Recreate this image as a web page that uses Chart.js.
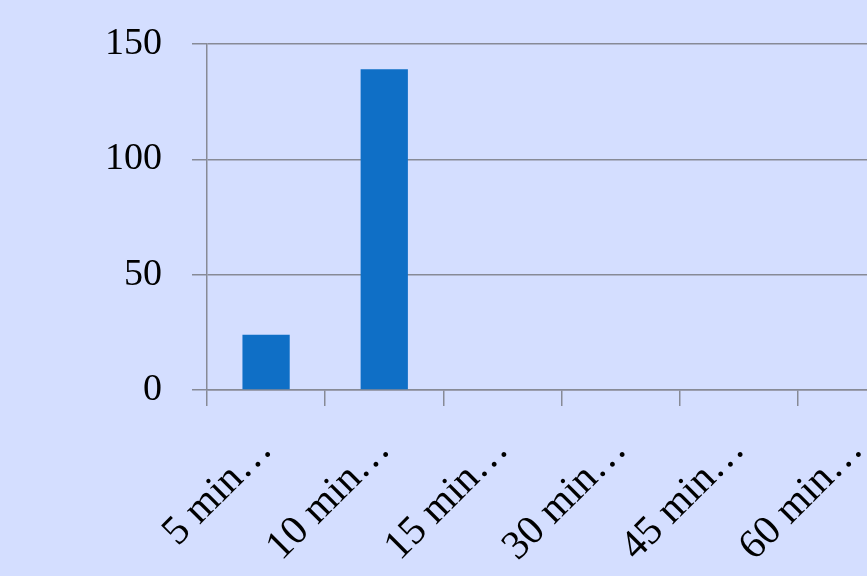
<!DOCTYPE html>
<html>
<head>
<meta charset="utf-8">
<script src="https://cdn.jsdelivr.net/npm/chart.js@4/dist/chart.umd.min.js"></script>
<style>
  html, body { margin: 0; padding: 0; background: #d4deff; overflow: hidden; }
  #wrap { width: 867px; height: 576px; overflow: hidden; position: relative; }
  #box { position: absolute; left: 0; top: 0; width: 916px; height: 640px; }
</style>
</head>
<body>
<div id="wrap"><div id="box"><canvas id="chart"></canvas></div></div>
<script>
// Data
const categories = ['5 min…', '10 min…', '15 min…', '30 min…', '45 min…', '60 min…'];
const counts = [24, 139, 0, 0, 0, 0];
const yTicks = [0, 50, 100, 150];

const gridColor = '#878a96';
const fontFamily = '"Liberation Serif", "DejaVu Serif", serif';

const ctx = document.getElementById('chart').getContext('2d');
new Chart(ctx, {
  type: 'bar',
  data: {
    labels: categories,
    datasets: [{
      data: counts,
      backgroundColor: '#0f6fc6',
      borderWidth: 0,
      categoryPercentage: 0.8,
      barPercentage: 0.5
    }]
  },
  options: {
    responsive: true,
    maintainAspectRatio: false,
    animation: false,
    layout: { padding: { top: 44, right: 0, left: 0, bottom: 0 } },
    plugins: { legend: { display: false }, tooltip: { enabled: false } },
    scales: {
      x: {
        offset: true,
        afterFit: function(scale) { scale.height = 250; },
        grid: { display: true, drawOnChartArea: false, color: gridColor, lineWidth: 1.5, tickLength: 16, offset: true },
        border: { display: true, color: gridColor, width: 1.5 },
        ticks: {
          autoSkip: false,
          minRotation: 45,
          maxRotation: 45,
          padding: 20,
          color: '#000',
          font: { family: fontFamily, size: 41 }
        }
      },
      y: {
        min: 0,
        max: 150,
        afterFit: function(scale) {
          scale.width = 207;
          scale.paddingTop = 0;
          scale.paddingBottom = 0;
        },
        afterBuildTicks: function(scale) { scale.ticks = yTicks.map(v => ({ value: v })); },
        grid: { color: gridColor, lineWidth: 1.5, tickLength: 15 },
        border: { display: true, color: gridColor, width: 1.5 },
        ticks: {
          padding: 30,
          color: '#000',
          font: { family: fontFamily, size: 38 }
        }
      }
    }
  }
});
</script>
</body>
</html>
